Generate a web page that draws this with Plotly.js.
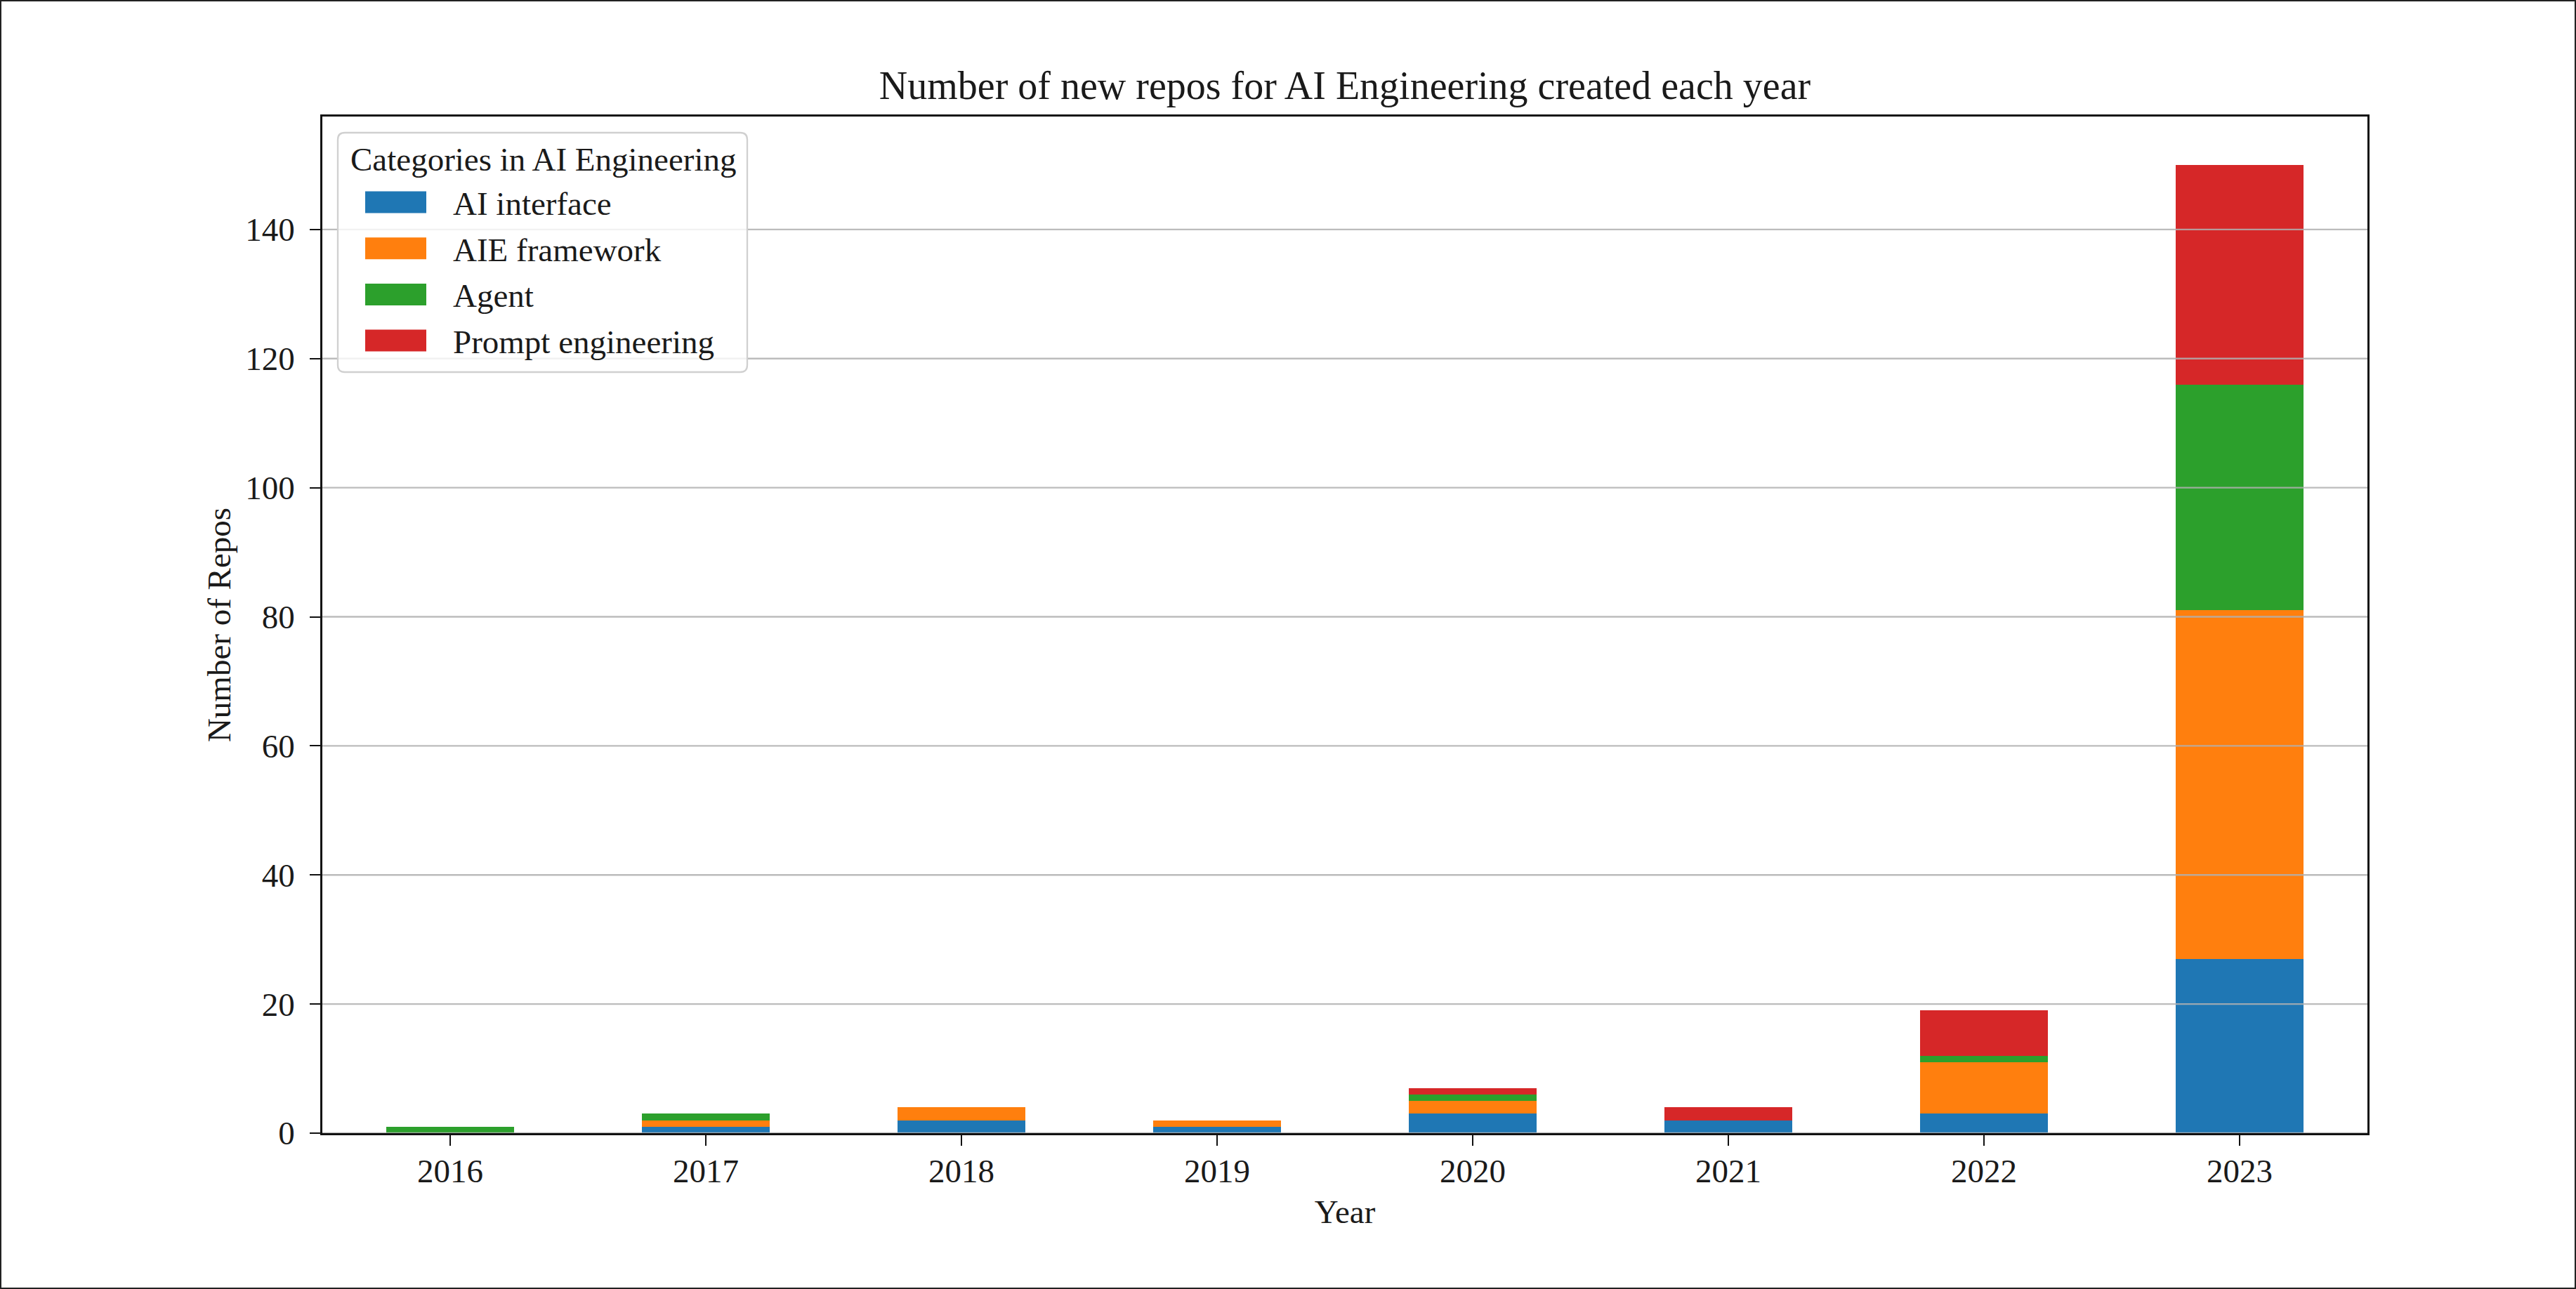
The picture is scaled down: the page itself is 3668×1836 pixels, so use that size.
<!DOCTYPE html>
<html>
<head>
<meta charset="utf-8">
<script src="https://cdn.plot.ly/plotly-3.0.1.min.js"></script>
<style>
  html, body { margin: 0; padding: 0; background: #fff; }
  #wrap { position: relative; width: 3668px; height: 1836px; }
  #wrap:after {
    content: ""; position: absolute; left: 0; top: 0; right: 0; bottom: 0;
    border: 2px solid #222; pointer-events: none; z-index: 10;
  }
  #plot { width: 3668px; height: 1836px; }
</style>
</head>
<body>
<div id="wrap"><div id="plot"></div></div>
<script>
// values
var years = ['2016', '2017', '2018', '2019', '2020', '2021', '2022', '2023'];
var aiInterface  = [0, 1, 2, 1, 3, 2, 3, 27];
var aieFramework = [0, 1, 2, 1, 2, 0, 8, 54];
var agent        = [1, 1, 0, 0, 1, 0, 1, 35];
var promptEng    = [0, 0, 0, 0, 1, 2, 7, 34];

var seriesNames  = ['AI interface', 'AIE framework', 'Agent', 'Prompt engineering'];
var seriesColors = ['#1f77b4', '#ff7f0e', '#2ca02c', '#d62728'];
var yTicks = [0, 20, 40, 60, 80, 100, 120, 140];

window.addEventListener('load', function(){
  var font = 'Liberation Serif, Times New Roman, serif';
  var ink = '#1a1a1a';

  // plot area in pixels (figure is 3668 x 1836)
  var L = 459, R = 3371, T = 166, B = 1614;
  var W = R - L, H = B - T;
  function px(x) { return (x - L) / W; }
  function py(y) { return (B - y) / H; }
  function P(x, y) { return px(x).toFixed(5) + ',' + py(y).toFixed(5); }

  var values = [aiInterface, aieFramework, agent, promptEng];
  var data = [];
  for (var i = 0; i < values.length; i++) {
    data.push({
      type: 'bar',
      x: years,
      y: values[i],
      name: seriesNames[i],
      marker: {color: seriesColors[i], line: {width: 0}},
      hoverinfo: 'skip'
    });
  }

  // matplotlib draws the grid over the bars, so grid lines are shapes
  var shapes = [];
  yTicks.forEach(function(t) {
    shapes.push({
      type: 'line', xref: 'paper', yref: 'y', x0: 0, x1: 1, y0: t, y1: t,
      line: {color: 'rgba(176,176,176,0.85)', width: 2.3}, layer: 'above'
    });
  });

  // hand made legend box like matplotlib's
  var lx0 = 481, lx1 = 1064, ly0 = 189, ly1 = 530, r = 10;
  shapes.push({
    type: 'path', xref: 'paper', yref: 'paper', layer: 'above',
    path: 'M' + P(lx0 + r, ly0) + ' L' + P(lx1 - r, ly0) + ' Q' + P(lx1, ly0) + ' ' + P(lx1, ly0 + r) +
          ' L' + P(lx1, ly1 - r) + ' Q' + P(lx1, ly1) + ' ' + P(lx1 - r, ly1) +
          ' L' + P(lx0 + r, ly1) + ' Q' + P(lx0, ly1) + ' ' + P(lx0, ly1 - r) +
          ' L' + P(lx0, ly0 + r) + ' Q' + P(lx0, ly0) + ' ' + P(lx0 + r, ly0) + ' Z',
    fillcolor: 'rgba(255,255,255,0.8)',
    line: {color: '#d0d0d0', width: 2.3}
  });

  var annotations = [{
    xref: 'paper', yref: 'paper', x: px(497), y: py(227),
    xanchor: 'left', yanchor: 'middle', showarrow: false,
    text: 'Categories in AI Engineering', font: {family: font, size: 47, color: ink}
  }];

  var firstRow = 288, rowGap = 65.7;
  for (var k = 0; k < seriesNames.length; k++) {
    var cy = firstRow + k * rowGap;
    shapes.push({
      type: 'rect', xref: 'paper', yref: 'paper', layer: 'above',
      x0: px(520), x1: px(607), y0: py(cy - 15.5), y1: py(cy + 15.5),
      fillcolor: seriesColors[k], line: {width: 0}
    });
    annotations.push({
      xref: 'paper', yref: 'paper', x: px(643), y: py(cy + 2),
      xanchor: 'left', yanchor: 'middle', showarrow: false,
      text: seriesNames[k], font: {family: font, size: 47, color: ink}
    });
  }

  var layout = {
    width: 3668,
    height: 1836,
    margin: {l: L, r: 3668 - R, t: T, b: 1836 - B, pad: 0},
    paper_bgcolor: '#fff',
    plot_bgcolor: '#fff',
    font: {family: font, size: 47, color: ink},
    barmode: 'stack',
    bargap: 0.5,
    showlegend: false,
    title: {
      text: 'Number of new repos for AI Engineering created each year',
      font: {family: font, size: 56, color: ink},
      xref: 'paper', x: 0.5, xanchor: 'center',
      yref: 'paper', y: 1, yanchor: 'bottom', pad: {b: 25}
    },
    xaxis: {
      type: 'category',
      range: [-0.5, years.length - 0.5],
      showgrid: false,
      showline: true, mirror: true, linecolor: '#111', linewidth: 2.5,
      ticks: 'outside', ticklen: 15, tickwidth: 2.3, tickcolor: '#111',
      ticklabelstandoff: -4,
      tickfont: {family: font, size: 47, color: ink},
      title: {text: 'Year', font: {family: font, size: 47, color: ink}, standoff: 16},
      fixedrange: true
    },
    yaxis: {
      range: [0, 157.5],
      tickvals: yTicks,
      showgrid: false,
      zeroline: false,
      showline: true, mirror: true, linecolor: '#111', linewidth: 2.5,
      ticks: 'outside', ticklen: 15, tickwidth: 2.3, tickcolor: '#111',
      ticklabelstandoff: 12,
      tickfont: {family: font, size: 47, color: ink},
      title: {text: 'Number of Repos', font: {family: font, size: 47, color: ink}, standoff: 6},
      fixedrange: true
    },
    shapes: shapes,
    annotations: annotations
  };

  Plotly.newPlot('plot', data, layout, {displayModeBar: false, responsive: false});
});
</script>
</body>
</html>
